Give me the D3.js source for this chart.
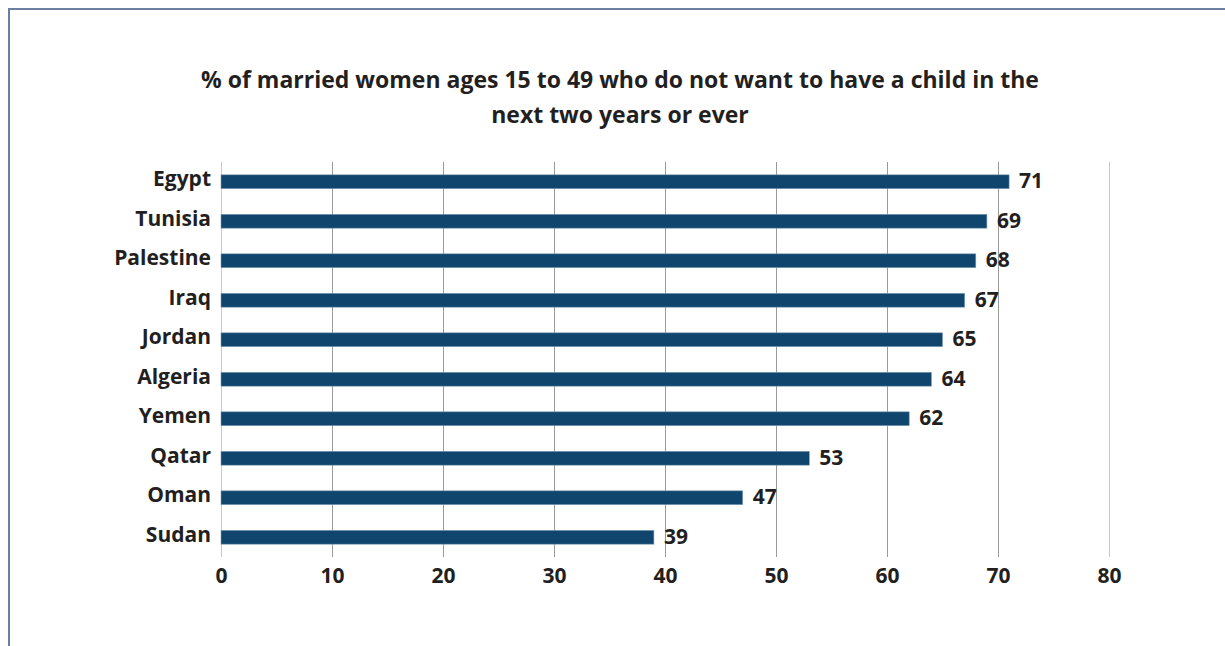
<!DOCTYPE html>
<html>
<head>
<meta charset="utf-8">
<script src="https://cdn.jsdelivr.net/npm/d3@7"></script>
<style>
  html, body { margin: 0; padding: 0; background: #ffffff; }
  svg { display: block; }
  text { font-family: "Open Sans", "Noto Sans", sans-serif; font-weight: 700; fill: #231f20; }
</style>
</head>
<body>
<svg id="chart" width="1225" height="646"></svg>
<script>
// Share of married women aged 15–49 who do not want a child in the next two years or ever
const countries = ["Egypt", "Tunisia", "Palestine", "Iraq", "Jordan", "Algeria", "Yemen", "Qatar", "Oman", "Sudan"];
const values = [71, 69, 68, 67, 65, 64, 62, 53, 47, 39];
const xTicks = [0, 10, 20, 30, 40, 50, 60, 70, 80];
const titleLines = [
  "% of married women ages 15 to 49 who do not want to have a child in the",
  "next two years or ever"
];

const W = 1225, H = 646;
const margin = { left: 221, right: 116, top: 162, bottom: 89 };

const svg = d3.select("#chart");

// Frame: top and left edges only
svg.append("path")
  .attr("d", `M9,${H} L9,9 L${W},9`)
  .attr("fill", "none")
  .attr("stroke", "#6b7fa3")
  .attr("stroke-width", 2);

// Title
svg.append("g").selectAll("text")
  .data(titleLines)
  .join("text")
  .attr("x", 620)
  .attr("y", (d, i) => 88 + i * 35)
  .attr("text-anchor", "middle")
  .attr("font-size", 23)
  .text(d => d);

const x = d3.scaleLinear().domain([0, 80]).range([margin.left, W - margin.right]);
const y = d3.scaleBand().domain(countries)
  .range([margin.top, H - margin.bottom])
  .paddingInner(0.65).paddingOuter(0.325);

// Vertical gridlines
svg.append("g").selectAll("line")
  .data(xTicks)
  .join("line")
  .attr("x1", d => x(d) + 0.5)
  .attr("x2", d => x(d) + 0.5)
  .attr("y1", margin.top)
  .attr("y2", H - margin.bottom)
  .attr("stroke", d => (d === 0 || d === 80) ? "#c8c8c8" : "#9a9a9a")
  .attr("stroke-width", 1);

// Bars
svg.append("g").selectAll("rect")
  .data(countries)
  .join("rect")
  .attr("x", x(0))
  .attr("y", d => y(d))
  .attr("width", (d, i) => x(values[i]) - x(0))
  .attr("height", y.bandwidth())
  .attr("fill", "#10466e")
  .attr("stroke", "#7d9bb5")
  .attr("stroke-width", 0.6);

// Value labels
svg.append("g").selectAll("text")
  .data(countries)
  .join("text")
  .attr("x", (d, i) => x(values[i]) + 10)
  .attr("y", d => y(d) + y.bandwidth() / 2)
  .attr("dy", "0.3em")
  .attr("font-size", 21)
  .text((d, i) => values[i]);

// Category axis
const yAxis = svg.append("g")
  .attr("transform", `translate(${margin.left - 10},0)`)
  .call(d3.axisLeft(y).tickSize(0).tickPadding(0));
yAxis.select(".domain").remove();
yAxis.selectAll("text")
  .attr("font-size", 21)
  .attr("font-family", null)
  .attr("fill", "#231f20")
  .attr("dy", "0.22em");

// Value axis
const xAxis = svg.append("g")
  .attr("transform", `translate(0,${H - margin.bottom})`)
  .call(d3.axisBottom(x).tickValues(xTicks).tickSize(0).tickPadding(11));
xAxis.select(".domain").remove();
xAxis.selectAll("text")
  .attr("font-size", 21)
  .attr("font-family", null)
  .attr("fill", "#231f20");
</script>
</body>
</html>
